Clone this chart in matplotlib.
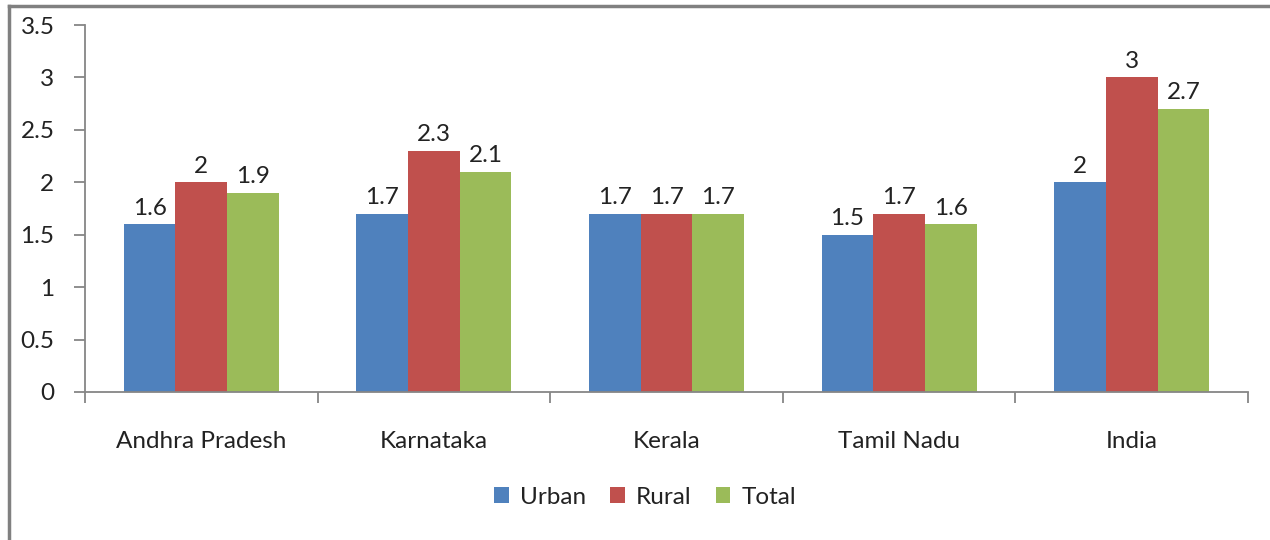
import matplotlib.pyplot as plt
import numpy as np
from matplotlib.lines import Line2D

# data
states = ["Andhra Pradesh", "Karnataka", "Kerala", "Tamil Nadu", "India"]
urban = [1.6, 1.7, 1.7, 1.5, 2.0]
rural = [2.0, 2.3, 1.7, 1.7, 3.0]
total = [1.9, 2.1, 1.7, 1.6, 2.7]
series_names = ["Urban", "Rural", "Total"]
colors = ["#4f81bd", "#c0504d", "#9bbb59"]

plt.rcParams['font.family'] = ['Lato', 'DejaVu Sans']
fs = 17.5
grey = "#868686"

fig = plt.figure(figsize=(12.7, 5.4), dpi=100)
ax = fig.add_axes([85/1270, (540-392)/540, (1248-85)/1270, (392-25)/540])

x = np.arange(len(states))
w = 1/4.5
for i, (vals, name) in enumerate(zip([urban, rural, total], series_names)):
    bars = ax.bar(x + (i-1)*w, vals, w, color=colors[i], label=name)
    for b, v in zip(bars, vals):
        lab = ("%g" % v)
        ax.annotate(lab, (b.get_x() + b.get_width()/2, v), xytext=(0, 4),
                    textcoords="offset points", ha="center", va="bottom",
                    fontsize=fs, color="#222222")

ax.set_xlim(-0.5, len(states)-0.5)
ax.set_ylim(0, 3.5)
ax.set_yticks(np.arange(0, 3.51, 0.5))
ax.set_yticklabels(["0", "0.5", "1", "1.5", "2", "2.5", "3", "3.5"])
ax.set_xticks(np.arange(-0.5, len(states), 1.0))
ax.set_xticklabels([])
ax.set_xticks(x, minor=True)
ax.set_xticklabels(states, minor=True)
ax.tick_params(axis='x', which='minor', length=0, pad=28, labelsize=fs, labelcolor="#222222")
ax.tick_params(axis='x', which='major', length=8, color=grey, width=1.3)
ax.tick_params(axis='y', length=8, color=grey, width=1.3, pad=14, labelsize=fs, labelcolor="#222222")

for s in ["top", "right"]:
    ax.spines[s].set_visible(False)
for s in ["left", "bottom"]:
    ax.spines[s].set_color(grey)
    ax.spines[s].set_linewidth(1.3)

leg = fig.legend(loc="center", bbox_to_anchor=(645/1270, 1-497/540), ncol=3, frameon=False,
                 fontsize=fs, handlelength=0.6, handleheight=0.6, handletextpad=0.45,
                 columnspacing=1.0)
for t in leg.get_texts():
    t.set_color("#222222")

# outer chart frame
fig.add_artist(Line2D([9/1270, 9/1270], [0, 1-6/540], color="#808080", lw=2.5, transform=fig.transFigure))
fig.add_artist(Line2D([9/1270, 1], [1-6/540, 1-6/540], color="#808080", lw=2.5, transform=fig.transFigure))

fig.savefig("out.png", dpi=100)
